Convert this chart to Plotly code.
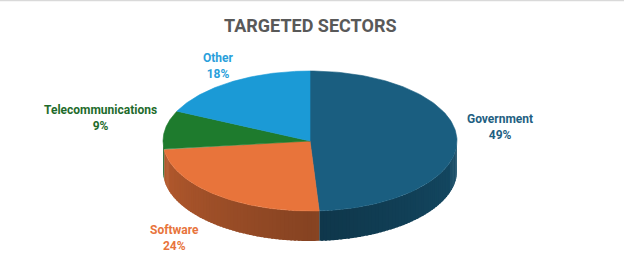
import numpy as np
import plotly.graph_objects as go

# ---- data ----
sectors = ["Government", "Software", "Telecommunications", "Other"]
shares = [49, 24, 9, 18]
top_colors = ["#1a5e80", "#e8743b", "#1e7b2d", "#1b9ad6"]
label_colors = ["#1f5f82", "#e8743b", "#1e6b2b", "#2a9fdb"]
title_text = "TARGETED SECTORS"

# ---- geometry (pixel space) ----
CX, CY, RX, RY, DEPTH = 310, 141, 147, 70, 30
label_pos = [(500, 127), (174, 238), (100, 118), (218, 66)]


def ell(theta_deg, dy=0.0):
    t = np.radians(theta_deg)
    return CX + RX * np.sin(t), CY - RY * np.cos(t) + dy


def hex2rgb(h):
    h = h.lstrip("#")
    return tuple(int(h[i:i + 2], 16) for i in (0, 2, 4))


def shade(h, f):
    r, g, b = hex2rgb(h)
    return "rgb(%d,%d,%d)" % (r * f, g * f, b * f)


fig = go.Figure()

total = sum(shares)
bounds = np.concatenate([[0], np.cumsum(shares) / total * 360.0])

# side walls (visible front: angles 90..270)
for i, col in enumerate(top_colors):
    a0, a1 = max(bounds[i], 90), min(bounds[i + 1], 270)
    if a1 <= a0:
        continue
    n = max(int((a1 - a0) / 1.5), 1)
    edges = np.linspace(a0, a1, n + 1)
    for j in range(n):
        s0 = edges[j]
        s1 = min(edges[j + 1] + 0.8, a1)
        mid = (edges[j] + edges[j + 1]) / 2
        f = 0.58 + 0.22 * abs(mid - 180) / 90
        th = np.linspace(s0, s1, 6)
        xt, yt = ell(th)
        xb, yb = ell(th[::-1], DEPTH)
        c = shade(col, f)
        fig.add_trace(go.Scatter(
            x=np.concatenate([xt, xb]), y=np.concatenate([yt, yb]),
            fill="toself", fillcolor=c, mode="lines",
            line=dict(width=0), hoverinfo="skip", showlegend=False))

# top faces
for i, col in enumerate(top_colors):
    th = np.linspace(bounds[i], bounds[i + 1], 120)
    xt, yt = ell(th)
    fig.add_trace(go.Scatter(
        x=np.concatenate([[CX], xt, [CX]]), y=np.concatenate([[CY], yt, [CY]]),
        fill="toself", fillcolor=col, mode="lines",
        line=dict(color=col, width=0.6), name=sectors[i],
        hoverinfo="name", showlegend=False))

annotations = [dict(
    x=label_pos[i][0], y=label_pos[i][1], xref="x", yref="y",
    text="<b>%s</b><br><b>%d%%</b>" % (sectors[i], shares[i]),
    showarrow=False, align="center",
    font=dict(family="Roboto", size=12, color=label_colors[i]))
    for i in range(len(sectors))]

annotations.append(dict(
    x=310, y=25, xref="x", yref="y", text="<b>%s</b>" % title_text,
    showarrow=False, font=dict(family="Roboto", size=18, color="#595959")))

fig.update_layout(
    width=624, height=280,
    margin=dict(l=0, r=0, t=0, b=0),
    paper_bgcolor="white", plot_bgcolor="white",
    xaxis=dict(range=[0, 624], visible=False, fixedrange=True),
    yaxis=dict(range=[280, 0], visible=False, fixedrange=True),
    annotations=annotations,
    shapes=[dict(type="line", xref="paper", yref="paper", x0=0, x1=1, y0=0.998, y1=0.998,
                 line=dict(color="#d9d9d9", width=1.5))],
)

fig.write_html("out.html")
